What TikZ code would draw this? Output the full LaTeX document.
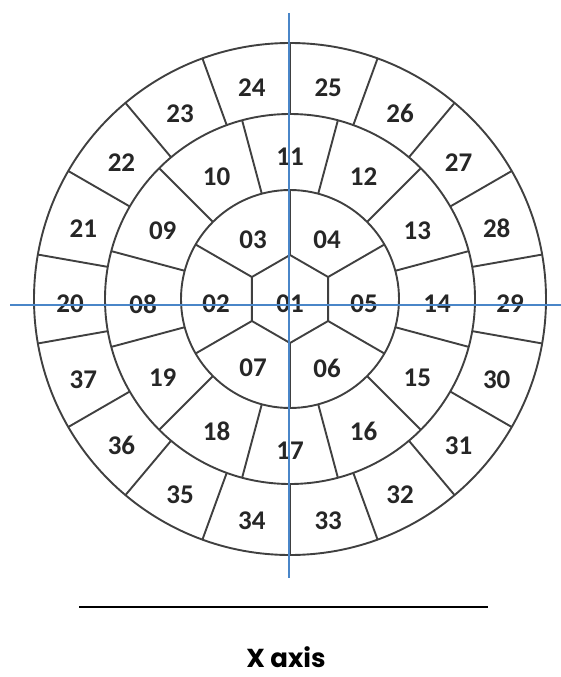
\documentclass[tikz,border=0pt]{standalone}
\usepackage{fontspec}
\setmainfont{Carlito}
\newfontfamily\axisfont{Poppins}
\definecolor{axisblue}{HTML}{4A86C8}
\definecolor{cellline}{HTML}{404040}
\begin{document}
\begin{tikzpicture}[x=1pt,y=1pt,
  cellstroke/.style={draw=cellline,line width=1.9pt},
  axisstroke/.style={draw=axisblue,line width=2pt},
  cellnum/.style={font=\bfseries\fontsize{27}{30}\selectfont,text=black!85,inner sep=0pt,yshift=-5pt},
  axislabel/.style={font=\axisfont\bfseries\fontsize{26}{28}\selectfont,inner sep=0pt}]
\useasboundingbox (0,0) rectangle (561,-677);
\begin{scope}[shift={(290,-299)}]
  % circles
  \draw[cellstroke] (0,0) circle (256);
  \draw[cellstroke] (0,0) circle (185);
  \draw[cellstroke] (0,0) circle (109);
  % hexagon
  \draw[cellstroke] (30:44) -- (90:44) -- (150:44) -- (210:44) -- (270:44) -- (330:44) -- cycle;
  \foreach \a in {30,90,150,210,270,330}
    \draw[cellstroke] (\a:44) -- (\a:109);
  % middle ring spokes
  \foreach \k in {0,...,11}
    \draw[cellstroke] ({15+30*\k}:109) -- ({15+30*\k}:185);
  % outer ring spokes
  \foreach \k in {0,...,17}
    \draw[cellstroke] ({10+20*\k}:185) -- ({10+20*\k}:256);
  % labels
  \node[cellnum] (c01) at (0,0) {01};
  \foreach \n/\a in {02/180,03/120,04/60,05/0,06/-60,07/-120}
    \node[cellnum] (c\n) at (\a:74) {\n};
  \foreach \n/\a in {08/180,09/150,10/120,11/90,12/60,13/30,14/0,15/-30,16/-60,17/-90,18/-120,19/-150}
    \node[cellnum] (c\n) at (\a:147) {\n};
  \foreach \n/\a in {20/180,21/160,22/140,23/120,24/100,25/80,26/60,27/40,28/20,29/0,30/-20,31/-40,32/-60,33/-80,34/-100,35/-120,36/-140,37/-160}
    \node[cellnum] (c\n) at (\a:220) {\n};
\end{scope}
% axes
\coordinate (hl) at (10,-305);
\coordinate (hr) at (561,-305);
\coordinate (vt) at (289,-13);
\coordinate (vb) at (289,-578);
\draw[axisstroke] (hl) -- (hr);
\draw[axisstroke] (vt) -- (vb);
% x axis rule and label
\coordinate (rl) at (79,-607);
\coordinate (rr) at (488,-607);
\draw[line width=2.5pt,black] (rl) -- (rr);
\node[axislabel] (xlab) at (286,-657) {X axis};
\end{tikzpicture}
\end{document}
